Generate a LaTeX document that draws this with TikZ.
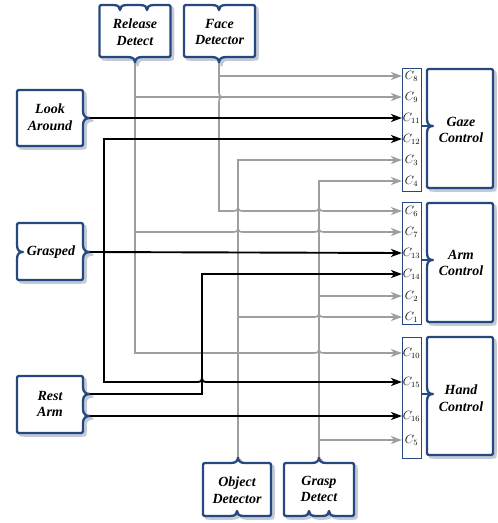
\documentclass[tikz,border=0pt]{standalone}
\usepackage{fontspec}
\setmainfont{Liberation Serif}
\usetikzlibrary{arrows.meta,calc}
\definecolor{bblue}{RGB}{38,72,128}
\definecolor{lgray}{RGB}{158,158,158}
\definecolor{shad}{RGB}{196,201,214}
% notches on box edges
\newcommand\nR[3]{-- ({#1-7},#2) .. controls +(5.5,0) and +(0,{-0.55*(#3)}) .. ({#1},{#2+#3}) .. controls +(0,{-0.55*(#3)}) and +(-5.5,0) .. ({#1+7},#2)}
\newcommand\nL[3]{-- ({#1+7},#2) .. controls +(-5.5,0) and +(0,{-0.55*(#3)}) .. ({#1},{#2+#3}) .. controls +(0,{-0.55*(#3)}) and +(5.5,0) .. ({#1-7},#2)}
\newcommand\nD[3]{-- (#1,{#2-7}) .. controls +(0,5.5) and +({-0.55*(#3)},0) .. ({#1+#3},#2) .. controls +({-0.55*(#3)},0) and +(0,-5.5) .. (#1,{#2+7})}
\newcommand\nU[3]{-- (#1,{#2+7}) .. controls +(0,-5.5) and +({-0.55*(#3)},0) .. ({#1+#3},#2) .. controls +({-0.55*(#3)},0) and +(0,5.5) .. (#1,{#2-7})}
% box outline: x1 y1 x2 y2, then notches on top, right, bottom, left
\newcommand\bx[8]{(#1,{#2+4}) .. controls (#1,#2) .. ({#1+4},#2) #5 -- ({#3-4},#2) .. controls (#3,#2) .. (#3,{#2+4}) #6 -- (#3,{#4-4}) .. controls (#3,#4) .. ({#3-4},#4) #7 -- ({#1+4},#4) .. controls (#1,#4) .. (#1,{#4-4}) #8 -- cycle}
% line hops
\newcommand\hopR{.. controls +(4,0) and +(0,2) .. ++(5,-3.5) .. controls +(0,2) and +(-4,0) .. ++(5,3.5)}
\newcommand\hopD{.. controls +(0,4) and +(-2,0) .. ++(3.5,5) .. controls +(-2,0) and +(0,-4) .. ++(-3.5,5)}
\newcommand\shbox[1]{\filldraw[shadowst] #1; \filldraw[boxst] #1;}
\begin{document}
\begin{tikzpicture}[x=1pt,y=-1pt,
  boxst/.style={draw=bblue,fill=white,line width=2.3pt,line join=round},
  shadowst/.style={draw=shad,fill=shad,line width=2.3pt,line join=round,xshift=2.6pt,yshift=-2.6pt},
  lbl/.style={align=center,inner sep=0pt,font=\fontsize{14}{16.5}\selectfont\bfseries\itshape},
  strip/.style={draw=bblue,fill=white,line width=1pt,minimum width=19pt,inner sep=0pt},
  port/.style={inner sep=0pt,font=\fontsize{11.5}{13}\selectfont},
  gl/.style={draw=lgray,line width=1.6pt,-{Stealth[length=11pt,width=8pt,inset=3pt]}},
  bl/.style={draw=black,line width=1.9pt,-{Stealth[length=11pt,width=8pt,inset=3pt]}},
  link/.style={draw=bblue,line width=1.2pt}]
\useasboundingbox (0,0) rectangle (498,523);

% ---- boxes ----
\shbox{\bx{99.5}{5}{170.5}{57}{\nR{120}{5}{5} \nR{147}{5}{5}}{}{\nL{135}{57}{6}}{}}
\shbox{\bx{184}{5}{255}{57}{\nR{219}{5}{5}}{}{\nL{219}{57}{6}}{}}
\shbox{\bx{17}{90}{83}{146}{}{\nD{83}{118}{7}}{}{}}
\shbox{\bx{17}{223}{83}{280}{}{\nD{83}{252}{7}}{}{\nU{17}{252}{6}}}
\shbox{\bx{17}{376}{83}{433}{}{\nD{83}{394}{7} \nD{83}{416}{7}}{}{}}
\shbox{\bx{203}{463}{271}{516}{\nR{238}{463}{-6}}{}{\nL{237}{516}{-5}}{}}
\shbox{\bx{284}{463}{354}{516}{\nR{319}{463}{-6}}{}{\nL{329}{516}{-5} \nL{309}{516}{-5}}{}}
\shbox{\bx{427}{69}{493}{188}{}{}{}{\nU{427}{126}{6}}}
\shbox{\bx{427}{203}{493}{322}{}{}{}{\nU{427}{260}{6}}}
\shbox{\bx{427}{337}{493}{455}{}{}{}{\nU{427}{394}{6}}}

\node[lbl] (rd) at (135,32) {Release\\Detect};
\node[lbl] (fd) at (219.5,32) {Face\\Detector};
\node[lbl] (la) at (50,117) {Look\\Around};
\node[lbl] (gr) at (51,252) {Grasped};
\node[lbl] (ra) at (50,404) {Rest\\Arm};
\node[lbl] (od) at (237,490) {Object\\Detector};
\node[lbl] (gd) at (319,489) {Grasp\\Detect};
\node[lbl] (gc) at (461,130) {Gaze\\Control};
\node[lbl] (ac) at (461,263) {Arm\\Control};
\node[lbl] (hc) at (461,398) {Hand\\Control};

% ---- port strips ----
\node[strip,minimum height=123pt] (gs) at (411.5,129.5) {};
\node[strip,minimum height=122pt] (as) at (411.5,263) {};
\node[strip,minimum height=121pt] (hs) at (411.5,397.5) {};

\coordinate (gc-in) at (433,126);
\coordinate (ac-in) at (433,260);
\coordinate (hc-in) at (433,394);
\draw[link] (gs.east |- gc-in) -- (gc-in);
\draw[link] (as.east |- ac-in) -- (ac-in);
\draw[link] (hs.east |- hc-in) -- (hc-in);

\foreach \n/\y in {8/76,9/97,11/118,12/139,3/160,4/181,6/211,7/232,13/253,14/274,2/296,1/317,10/353,15/382,16/416,5/440}{
  \coordinate (c\n) at (402,\y);
  \node[port] (l\n) at (411.5,\y) {$C_{\n}$};
}

% ---- outputs ----
\coordinate (fd-out) at (219,63);
\coordinate (rd-out) at (135,63);
\coordinate (od-out) at (238,457);
\coordinate (gd-out) at (319,457);
\coordinate (la-out) at (90,118);
\coordinate (gr-out) at (90,252);
\coordinate (ra-out1) at (90,394);
\coordinate (ra-out2) at (90,416);
\coordinate (j) at (104,252);

% ---- gray connectors ----
\draw[gl] (fd-out) -- (219,92) \hopD -- (219,211) -- (233,211) \hopR -- (314,211) \hopR -- (c6);
\draw[gl] (fd-out |- c8) -- (c8);
\draw[gl] (rd-out) -- (rd-out |- c10) -- (314,353) \hopR -- (c10);
\draw[gl] (rd-out |- c9) -- (c9);
\draw[gl] (rd-out |- c7) -- (233,232) \hopR -- (314,232) \hopR -- (c7);
\draw[gl] (od-out) -- (od-out |- c3) -- (c3);
\draw[gl] (od-out |- c1) -- (314,317) \hopR -- (c1);
\draw[gl] (gd-out) -- (gd-out |- c4) -- (c4);
\draw[gl] (gd-out |- c2) -- (c2);
\draw[gl] (gd-out |- c5) -- (c5);

% ---- black connectors ----
\draw[bl] (la-out) -- (c11);
\draw[bl] (gr-out) -- (c13);
\draw[bl] (j) |- (c12);
\draw[bl] (j) -- (104,382) -- (197,382) \hopR -- (c15);
\draw[bl] (ra-out1) -- (202,394) |- (c14);
\draw[bl] (ra-out2) -- (c16);
\end{tikzpicture}
\end{document}
